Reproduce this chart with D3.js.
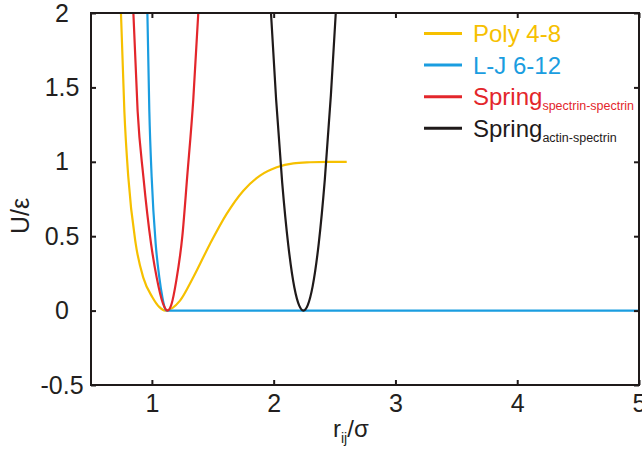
<!DOCTYPE html>
<html>
<head>
<meta charset="utf-8">
<script src="https://cdn.jsdelivr.net/npm/d3@7"></script>
<style>
  body { margin: 0; background: #fff; }
  text { font-family: "Liberation Sans", Arial, sans-serif; fill: #231f20; }
</style>
</head>
<body>
<svg id="mychart" width="642" height="450"></svg>
<script>
// values: r (in sigma) and U (in epsilon)
const polyR = [0.746, 0.774, 0.806, 0.867, 0.93, 1.004, 1.06, 1.11, 1.231, 1.34, 1.477, 1.614, 1.751, 1.888, 2.025, 2.162, 2.3, 2.45, 2.6];
const polyU = [2.0, 1.34, 0.9, 0.45, 0.22, 0.09, 0.025, 0, 0.067, 0.224, 0.448, 0.65, 0.806, 0.907, 0.963, 0.99, 0.997, 1.0, 1.0];

const ljR = [0.963, 0.979, 0.998, 1.031, 1.061, 1.086, 1.105, 1.122, 5.0];
const ljU = [2.0, 1.34, 0.9, 0.45, 0.224, 0.09, 0.02, 0, 0];

const springSSR = [0.848, 0.883, 0.93, 0.993, 1.04, 1.09, 1.128, 1.16, 1.2, 1.25, 1.29, 1.34, 1.381];
const springSSU = [2.0, 1.34, 0.9, 0.45, 0.22, 0.05, 0, 0.04, 0.2, 0.5, 0.9, 1.42, 2.0];

const springASR = [1.978, 2.02, 2.07, 2.12, 2.17, 2.21, 2.244, 2.28, 2.32, 2.37, 2.42, 2.47, 2.51];
const springASU = [2.0, 1.42, 0.86, 0.44, 0.155, 0.033, 0, 0.037, 0.163, 0.45, 0.88, 1.45, 2.0];

const seriesNames = ["Poly 4-8", "L-J 6-12", "Spring", "Spring"];
const seriesSubs = ["", "", "spectrin-spectrin", "actin-spectrin"];
const seriesColors = ["#f6c000", "#1a9de0", "#e3262b", "#1f1a1a"];

const xTicks = [1, 2, 3, 4, 5];
const yTicks = [-0.5, 0, 0.5, 1, 1.5, 2];

const zip = (xs, ys) => xs.map((x, i) => ({ r: x, u: ys[i] }));
const series = [
  zip(polyR, polyU),
  zip(ljR, ljU),
  zip(springSSR, springSSU),
  zip(springASR, springASU),
];

const plotLeft = 91, plotTop = 13, plotRight = 639, plotBottom = 385;
const svg = d3.select("#mychart");

const xScale = d3.scaleLinear().domain([0.5, 5]).range([plotLeft, plotRight]);
const yScale = d3.scaleLinear().domain([-0.5, 2]).range([plotBottom, plotTop]);

svg.append("clipPath").attr("id", "plotclip")
  .append("rect")
  .attr("x", plotLeft).attr("y", plotTop - 1)
  .attr("width", plotRight - plotLeft).attr("height", plotBottom - plotTop + 1);

// curves
const line = d3.line()
  .x((d) => xScale(d.r))
  .y((d) => yScale(d.u))
  .curve(d3.curveMonotoneX);

svg.append("g")
  .attr("clip-path", "url(#plotclip)")
  .selectAll("path")
  .data(series)
  .join("path")
  .attr("fill", "none")
  .attr("stroke", (d, i) => seriesColors[i])
  .attr("stroke-width", 2.2)
  .attr("d", line);

// axes, ticks pointing inward
const styleAxis = (g) => {
  g.select(".domain").remove();
  g.selectAll(".tick line").attr("stroke", "#1f1a1a").attr("stroke-width", 2);
  g.selectAll("text").attr("font-size", 25).attr("font-family", "Liberation Sans, Arial, sans-serif").attr("fill", "#231f20");
};

svg.append("g")
  .attr("transform", `translate(0,${plotBottom})`)
  .call(d3.axisBottom(xScale).tickValues(xTicks).tickSizeInner(-5).tickSizeOuter(0).tickPadding(9).tickFormat(d3.format("d")))
  .call(styleAxis);

svg.append("g")
  .attr("transform", `translate(0,${plotTop})`)
  .call(d3.axisTop(xScale).tickValues(xTicks).tickSizeInner(-5).tickSizeOuter(0).tickFormat(""))
  .call(styleAxis);

const yAxis = svg.append("g")
  .attr("transform", `translate(${plotLeft},0)`)
  .call(d3.axisLeft(yScale).tickValues(yTicks).tickSizeInner(-5).tickSizeOuter(0).tickFormat((d) => String(d)))
  .call(styleAxis);
yAxis.selectAll("text").attr("text-anchor", "middle").attr("x", -29);

svg.append("g")
  .attr("transform", `translate(${plotRight},0)`)
  .call(d3.axisRight(yScale).tickValues(yTicks).tickSizeInner(-5).tickSizeOuter(0).tickFormat(""))
  .call(styleAxis);

// frame
svg.append("rect")
  .attr("x", plotLeft).attr("y", plotTop)
  .attr("width", plotRight - plotLeft).attr("height", plotBottom - plotTop)
  .attr("fill", "none")
  .attr("stroke", "#1f1a1a")
  .attr("stroke-width", 2);

// axis titles
const xLabel = svg.append("text")
  .attr("x", 333).attr("y", 437)
  .attr("font-size", 24);
xLabel.append("tspan").text("r");
xLabel.append("tspan").attr("font-size", 14).attr("dy", 6).text("ij");
xLabel.append("tspan").attr("dy", -6).text("/σ");

svg.append("text")
  .attr("transform", "translate(29,216) rotate(-90)")
  .attr("text-anchor", "middle")
  .attr("font-size", 25)
  .text("U/ε");

// legend
const legend = svg.append("g")
  .selectAll("g")
  .data(seriesNames)
  .join("g")
  .attr("transform", (d, i) => `translate(424,${33.5 + i * 31.6})`);

legend.append("line")
  .attr("x1", 0).attr("x2", 38)
  .attr("stroke", (d, i) => seriesColors[i])
  .attr("stroke-width", 3);

const legText = legend.append("text")
  .attr("x", 49).attr("y", 8.5)
  .attr("font-size", 24)
  .style("fill", (d, i) => seriesColors[i]);
legText.append("tspan").text((d) => d);
legText.append("tspan")
  .attr("font-size", 12.5)
  .attr("dy", 5)
  .text((d, i) => seriesSubs[i]);
</script>
</body>
</html>
